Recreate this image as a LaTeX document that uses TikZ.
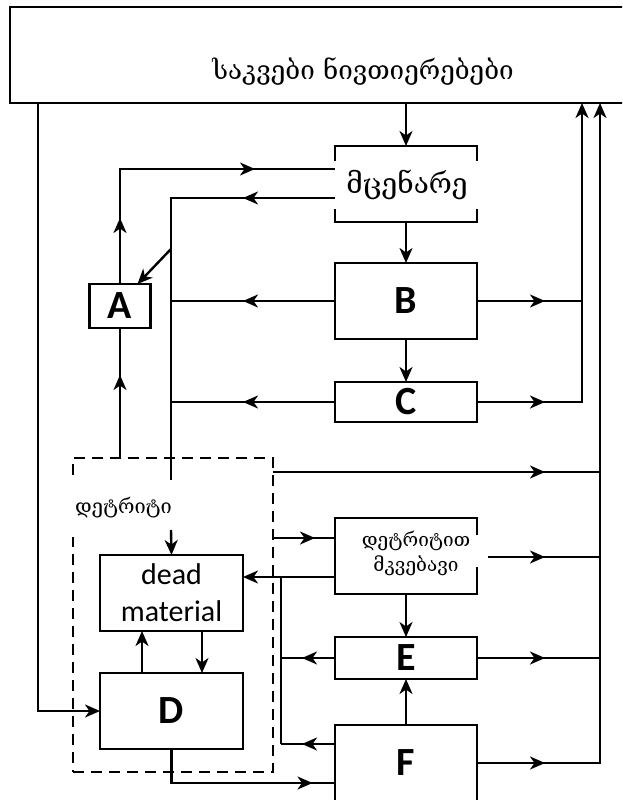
\documentclass[tikz,border=0pt]{standalone}
\usepackage{fontspec}
\setmainfont{Carlito}
\newfontfamily\geo{DejaVu Serif}
\usetikzlibrary{arrows.meta,decorations.markings}
\tikzset{
  ln/.style={line width=2.4pt},
  tip/.style={-{Stealth[length=15pt,width=13pt,inset=4.5pt]}},
  midarr/.style={postaction={decorate,decoration={markings,mark=at position #1 with {\arrow{Stealth[length=15pt,width=13pt,inset=4.5pt]}}}}},
  box/.style={draw,line width=2.2pt,inner sep=0pt,outer sep=0pt,minimum width=142pt},
  letter/.style={font=\fontsize{40}{40}\selectfont\bfseries},
  geotext/.style 2 args={font=\geo\fontsize{#1}{#2}\selectfont,inner sep=0pt,align=center},
}
\begin{document}
\begin{tikzpicture}[x=1pt,y=-1pt]
\clip (0,0) rectangle (622,800);
\fill[white] (0,0) rectangle (622,800);

% boxes
\node[box,minimum width=616pt,minimum height=96pt] (top) at (318,55) {};
\node[geotext={26}{30}] (toplab) at (363,72) {საკვები ნივთიერებები};
\node[box,minimum height=76pt] (plant) at (406,184) {};
\node[box,minimum height=76pt,letter] (B) at (406,301) {B};
\node[box,minimum height=40pt,letter] (C) at (406,402) {C};
\node[box,minimum width=61pt,minimum height=44pt,letter] (A) at (120,306) {A};
\node[box,minimum height=76pt] (detr) at (406,556) {};
\node[box,minimum height=42pt,letter] (E) at (406,658) {E};
\node[box,minimum height=76pt,letter] (F) at (406,763) {F};
\node[box,minimum width=143pt,minimum height=76pt,align=center,font=\fontsize{30}{37}\selectfont] (dead) at (171.5,593) {dead\\material};
\node[box,minimum width=143pt,minimum height=76pt,letter] (D) at (171.5,711) {D};
\node[draw,line width=1.8pt,dash pattern=on 11pt off 7pt,inner sep=0pt,outer sep=0pt,minimum width=200pt,minimum height=314pt] (det) at (173,615) {};

% gaps behind the labels
\fill[white] (332,161) rectangle (339,209);
\fill[white] (473,161) rectangle (480,209);
\fill[white] (473,535) rectangle (480,567);
\fill[white] (69,482) rectangle (77,537);
\node[geotext={28}{30}] (plantlab) at (407,185) {მცენარე};
\node[geotext={19}{25}] (detrlab) at (416,553) {დეტრიტით\\მკვებავი};
\node[geotext={20}{22},anchor=west] (detlab) at (75,508) {დეტრიტი};

% helper coordinates
\coordinate (xl) at (38,0);
\coordinate (xr1) at (582,0);
\coordinate (xr2) at (600,0);
\coordinate (xm) at (281,0);
\coordinate (dend) at (171,480);
\coordinate (dj) at (171,249);
\coordinate (dtop) at (171,530);
\coordinate (dstart) at (488,557);
\coordinate (o1) at ([yshift=-14pt]det.north east);
\coordinate (o2) at ([yshift=-80pt]det.north east);
\coordinate (i1) at ([yshift=-21pt]detr.west);
\coordinate (i2) at ([yshift=19pt]F.west);
\coordinate (i3) at ([yshift=-20pt]F.west);

% vertical chain
\draw[ln,tip] (top.south -| plant.north) -- (plant.north);
\draw[ln,tip] (plant.south) -- (B.north);
\draw[ln,tip] (B.south) -- (C.north);
\draw[ln,tip] (detr.south) -- (E.north);
\draw[ln,tip] (F.north) -- (E.south);
\draw[ln,tip] ([xshift=-29.5pt]D.north) -- ([xshift=-29.5pt]dead.south);
\draw[ln,tip] ([xshift=30.5pt]dead.south) -- ([xshift=30.5pt]D.north);

% left
\draw[ln,tip] (top.south -| xl) |- (D.west);
\draw[ln,midarr=66pt,midarr=250pt] (A.north) |- ([yshift=15pt]plant.west);
\draw[ln,midarr=83pt] (A.south |- det.north) -- (A.south);
\draw[ln,midarr=92pt] ([yshift=-14pt]plant.west) -| (dend);
\draw[ln,midarr=92pt] (B.west) -- (B.west -| dend);
\draw[ln,midarr=92pt] (C.west) -- (C.west -| dend);
\draw[ln,tip] (dj) -- ([xshift=-13pt]A.north east);
\draw[ln,tip] (dtop) -- (dead.north);

% right
\draw[ln,midarr=68pt,tip] (C.east) -| (top.south -| xr1);
\draw[ln,midarr=68pt] (B.east) -- (B.east -| xr1);
\draw[ln,midarr=68pt,tip] (F.east) -| (top.south -| xr2);
\draw[ln,midarr=68pt] (E.east) -- (E.east -| xr2);
\draw[ln,midarr=57pt] (dstart) -- (dstart -| xr2);
\draw[ln,midarr=272pt] (o1) -- (o1 -| xr2);
\draw[ln,midarr=42pt] (o2) -- (o2 -| detr.west);

% middle collector
\draw[ln,tip] (i1) -- (i1 -| dead.east);
\draw[ln,midarr=33pt] (E.west) -- (E.west -| xm);
\draw[ln,midarr=33pt] (i2) -- (i2 -| xm);
\draw[ln] (i1 -| xm) -- (i2 -| xm);
\draw[ln,midarr=175pt] (D.south) |- (i3);
\end{tikzpicture}
\end{document}
